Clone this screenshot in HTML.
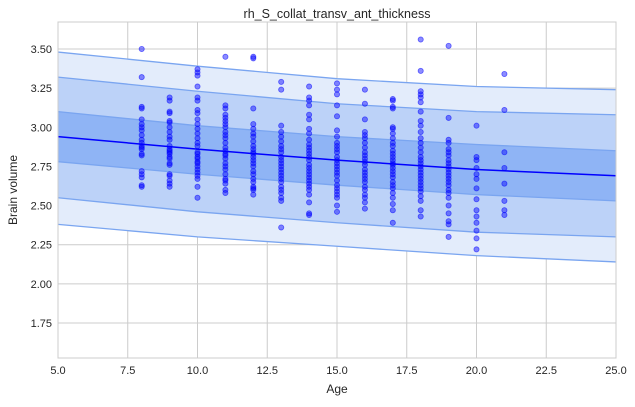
<!DOCTYPE html>
<html><head><meta charset="utf-8">
<style>
body{margin:0;background:#fff;font-family:"Liberation Sans",sans-serif;}
svg text{font-family:"Liberation Sans",sans-serif;fill:#262626;}
</style></head>
<body>
<svg id="chart" width="635" height="402" xmlns="http://www.w3.org/2000/svg">
<rect width="635" height="402" fill="#fff"/>
<g id="grid"></g>
<g id="bands"></g>
<g id="pts"></g>
<g id="axes"></g>
<text x="337" y="18" text-anchor="middle" font-size="12.5">rh_S_collat_transv_ant_thickness</text>
<text x="337" y="393" text-anchor="middle" font-size="12">Age</text>
<text transform="translate(17,190) rotate(-90)" text-anchor="middle" font-size="12">Brain volume</text>
</svg>
<script>
const xTicks=[5,7.5,10,12.5,15,17.5,20,22.5,25];
const yTicks=[1.75,2.00,2.25,2.50,2.75,3.00,3.25,3.50];
const bandX=[5,10,15,20,25];
const center=[2.94,2.86,2.79,2.73,2.69];
const innerHi=[3.10,3.01,2.94,2.89,2.85];
const innerLo=[2.78,2.70,2.63,2.57,2.53];
const midHi=[3.32,3.23,3.15,3.10,3.08];
const midLo=[2.55,2.46,2.39,2.33,2.30];
const outHi=[3.48,3.39,3.31,3.26,3.24];
const outLo=[2.38,2.30,2.24,2.18,2.14];
const ages=[8,9,10,11,12,13,14,15,16,17,18,19,20,21];
const vals=[
[3.50,3.32,3.13,3.12,3.05,3.02,3.00,2.98,2.95,2.92,2.90,2.88,2.87,2.86,2.83,2.82,2.72,2.70,2.68,2.63,2.62],
[3.19,3.17,3.10,3.09,3.04,3.03,3.00,2.97,2.94,2.92,2.88,2.86,2.85,2.84,2.83,2.81,2.80,2.77,2.76,2.70,2.69,2.66,2.64,2.62],
[3.37,3.35,3.33,3.26,3.19,3.17,3.11,3.09,3.05,3.02,2.99,2.96,2.93,2.90,2.88,2.84,2.83,2.81,2.80,2.78,2.77,2.75,2.73,2.71,2.69,2.67,2.62,2.55],
[3.45,3.14,3.12,3.08,3.06,3.04,3.02,3.00,2.97,2.95,2.93,2.90,2.87,2.85,2.83,2.82,2.80,2.77,2.75,2.73,2.70,2.67,2.66,2.64,2.60,2.58],
[3.45,3.44,3.12,3.02,2.99,2.96,2.94,2.91,2.88,2.86,2.84,2.83,2.81,2.79,2.77,2.75,2.72,2.70,2.67,2.65,2.62,2.61,2.60,2.57],
[3.29,3.24,3.01,2.97,2.94,2.91,2.88,2.86,2.84,2.81,2.79,2.77,2.75,2.73,2.71,2.69,2.67,2.65,2.62,2.60,2.58,2.55,2.53,2.36],
[3.26,3.19,3.17,3.14,3.08,3.05,2.99,2.96,2.92,2.89,2.87,2.85,2.83,2.81,2.79,2.76,2.74,2.72,2.70,2.68,2.66,2.64,2.62,2.60,2.57,2.52,2.45,2.44],
[3.28,3.24,3.21,3.14,3.07,2.98,2.94,2.90,2.88,2.86,2.84,2.81,2.79,2.77,2.75,2.73,2.71,2.69,2.66,2.63,2.61,2.59,2.57,2.55,2.50,2.46],
[3.24,3.15,3.05,2.97,2.95,2.93,2.90,2.87,2.84,2.82,2.80,2.78,2.76,2.73,2.71,2.69,2.67,2.65,2.62,2.60,2.57,2.55,2.52,2.48],
[3.18,3.17,3.13,3.12,3.00,2.99,2.96,2.93,2.90,2.88,2.85,2.83,2.81,2.79,2.77,2.76,2.74,2.72,2.70,2.68,2.65,2.63,2.61,2.58,2.55,2.51,2.47,2.39],
[3.56,3.36,3.23,3.21,3.19,3.16,3.10,3.04,3.01,2.97,2.93,2.90,2.87,2.84,2.81,2.79,2.77,2.75,2.73,2.71,2.69,2.67,2.65,2.63,2.61,2.59,2.56,2.53,2.47,2.43],
[3.52,3.06,2.92,2.90,2.86,2.84,2.82,2.79,2.77,2.75,2.73,2.71,2.69,2.67,2.65,2.63,2.60,2.58,2.55,2.50,2.45,2.40,2.38,2.30],
[3.01,2.81,2.79,2.74,2.70,2.67,2.61,2.54,2.47,2.43,2.39,2.34,2.29,2.22],
[3.34,3.11,2.84,2.74,2.64,2.53,2.47,2.44]
];
const L=58,R=616,T=22,B=358;
const X=v=>L+(v-5)*(R-L)/20;
const Y=v=>323-(v-1.75)*156.6;
const NS='http://www.w3.org/2000/svg';
function mk(tag,parent,attrs){const e=document.createElementNS(NS,tag);for(const k in attrs)e.setAttribute(k,attrs[k]);parent.appendChild(e);return e;}
const grid=document.getElementById('grid'),axes=document.getElementById('axes'),bands=document.getElementById('bands'),pts=document.getElementById('pts');
xTicks.forEach(t=>{
 const l=mk('line',grid,{x1:X(t),x2:X(t),y1:T,y2:B,stroke:'#cccccc','stroke-width':1});
 
 
 const tx=mk('text',axes,{x:X(t),y:B+16,'text-anchor':'middle','font-size':'11'});
 tx.textContent=t.toFixed(1);
 
 
});
yTicks.forEach(t=>{
 const l=mk('line',grid,{x1:L,x2:R,y1:Y(t),y2:Y(t),stroke:'#cccccc','stroke-width':1});
 
 
 const tx=mk('text',axes,{x:L-6,y:Y(t)+4,'text-anchor':'end','font-size':'11'});
 tx.textContent=t.toFixed(2);
 
 
});
const fr=mk('rect',axes,{x:L,y:T,width:R-L,height:B-T,fill:'none',stroke:'#cccccc','stroke-width':1});


function line(arr){return arr.map((v,i)=>(i?'L':'M')+X(bandX[i])+','+Y(v)).join(' ');}
function band(hi,lo,name,fill){
 const d=line(hi)+' '+lo.slice().reverse().map((v,i)=>'L'+X(bandX[lo.length-1-i])+','+Y(v)).join(' ')+'Z';
 const p=mk('path',bands,{d:d,fill:fill,stroke:'none'});
 
 
 [hi,lo].forEach(a=>{const e=mk('path',bands,{d:line(a),fill:'none',stroke:'#7aa5f0','stroke-width':1.3});
 
 });
}
band(outHi,outLo,'outer-band','#e3ecfb');
band(midHi,midLo,'middle-band','#bcd2f8');
band(innerHi,innerLo,'inner-band','#8fb4f5');
const c=mk('path',bands,{d:line(center),fill:'none',stroke:'#0000ff','stroke-width':1.5});


ages.forEach((a,i)=>vals[i].forEach(v=>{
 const p=mk('circle',pts,{cx:X(a),cy:Y(v),r:2.6,fill:'rgba(0,0,255,0.45)',stroke:'rgba(0,0,255,0.55)','stroke-width':0.8});
 
 
}));
</script>
</body></html>
